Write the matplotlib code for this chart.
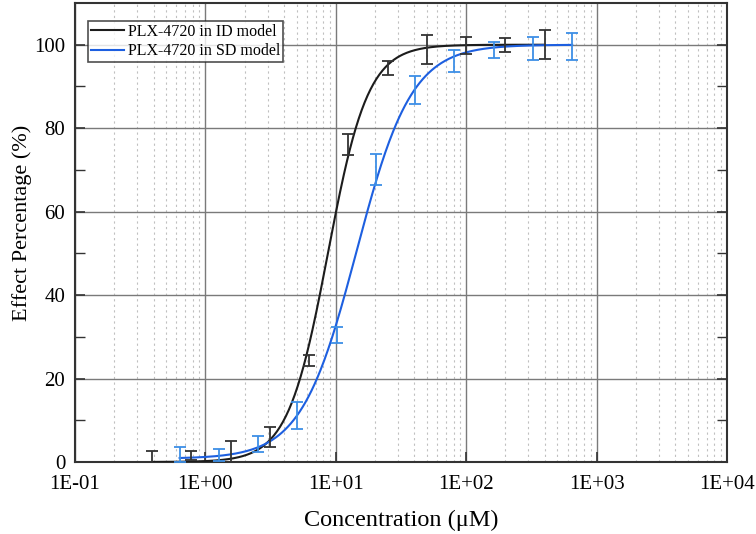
import numpy as np
import matplotlib.pyplot as plt
from matplotlib.ticker import LogLocator, FixedLocator, NullFormatter

# measured points (two-fold dilution series), mean effect and error
conc_id = [0.39, 0.78, 1.56, 3.125, 6.25, 12.5, 25, 50, 100, 200, 400]
effect_id = [0.0, 1.6, 2.5, 5.9, 24.3, 76.1, 94.4, 98.8, 99.8, 99.9, 100.0]
err_id = [2.7, 1.1, 2.5, 2.4, 1.3, 2.6, 1.7, 3.5, 2.1, 1.6, 3.5]

conc_sd = [0.635, 1.27, 2.54, 5.08, 10.16, 20.3, 40.6, 81.25, 162.5, 325, 650]
effect_sd = [1.8, 1.7, 4.3, 11.2, 30.5, 70.1, 89.1, 96.1, 98.7, 99.1, 99.5]
err_sd = [1.8, 1.4, 2.0, 3.3, 1.9, 3.8, 3.3, 2.6, 2.0, 2.8, 3.2]

# fitted dose-response parameters (bottom, top, EC50, hill slope)
fit_id = (0.0, 100.0, 8.7, 2.82)
fit_sd = (0.8, 100.0, 14.4, 2.05)

labels = ["PLX-4720 in ID model", "PLX-4720 in SD model"]
x_ticks = [1e-1, 1e0, 1e1, 1e2, 1e3, 1e4]
x_ticklabels = ["1E-01", "1E+00", "1E+01", "1E+02", "1E+03", "1E+04"]


def hill(x, params):
    bottom, top, ec50, n = params
    return bottom + (top - bottom) / (1.0 + (ec50 / x) ** n)


plt.rcParams['font.family'] = ['Liberation Serif', 'DejaVu Serif']

fig = plt.figure(figsize=(7.56, 5.34), dpi=100)
ax = fig.add_axes([0.0992, 0.1348, 0.8624, 0.8596])

ax.set_xscale('log')
ax.set_xlim(1e-1, 1e4)
ax.set_ylim(0, 110)

# grid
ax.xaxis.set_major_locator(FixedLocator(x_ticks))
ax.set_xticklabels(x_ticklabels)
ax.xaxis.set_minor_locator(LogLocator(base=10, subs=np.arange(2, 10), numticks=20))
ax.xaxis.set_minor_formatter(NullFormatter())
ax.set_yticks([0, 20, 40, 60, 80, 100])
ax.set_yticks([10, 30, 50, 70, 90], minor=True)
ax.grid(which='major', color='#7a7a7a', linewidth=1.0)
ax.grid(which='minor', axis='x', color='#c0c0c0', linestyle=(0, (2, 3)), linewidth=0.8)
ax.set_axisbelow(True)

colors = ['#1c1c1c', '#1d5fe0']
err_colors = ['#333333', '#3d8fe6']

for conc, eff, err, fit, c, ec, lab in [
        (conc_id, effect_id, err_id, fit_id, colors[0], err_colors[0], labels[0]),
        (conc_sd, effect_sd, err_sd, fit_sd, colors[1], err_colors[1], labels[1])]:
    xs = np.logspace(np.log10(conc[0]), np.log10(conc[-1]), 400)
    ax.plot(xs, hill(xs, fit), color=c, linewidth=1.5, label=lab, zorder=3)
    ax.errorbar(conc, eff, yerr=err, fmt='none', ecolor=ec, elinewidth=1.3,
                capsize=4, capthick=1.3, zorder=4)

ax.tick_params(which='both', direction='in', right=True, top=False,
               labelsize=15, color='#333333')
ax.tick_params(which='major', length=7, width=1.2)
ax.tick_params(which='minor', length=7, width=1.0)
ax.tick_params(axis='x', which='minor', length=0)
ax.tick_params(axis='x', pad=9)
ax.tick_params(axis='y', pad=7)
for s in ax.spines.values():
    s.set_linewidth(1.5)
    s.set_color('#333333')

ax.set_xlabel('Concentration (μM)', fontsize=17.5, labelpad=12)
ax.set_ylabel('Effect Percentage (%)', fontsize=16)
ax.yaxis.set_label_coords(-0.066, 0.52)

leg = ax.legend(loc='upper left', bbox_to_anchor=(0.0195, 0.961), fontsize=11.5,
                frameon=True, fancybox=False, edgecolor='#222222',
                handlelength=2.1, handletextpad=0.2, borderpad=0.2,
                labelspacing=0.2, borderaxespad=0.0)
leg.get_frame().set_linewidth(1.2)

fig.savefig('out.png', dpi=100)
